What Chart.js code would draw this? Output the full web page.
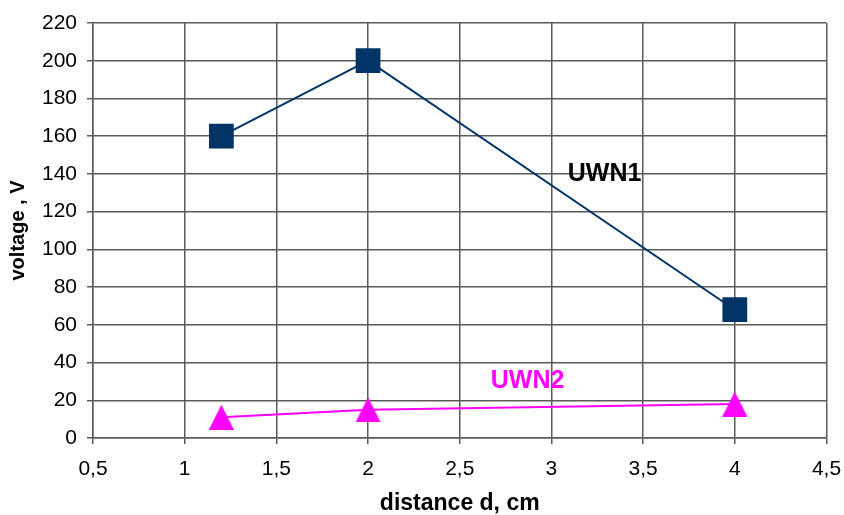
<!DOCTYPE html>
<html>
<head>
<meta charset="utf-8">
<script src="https://cdn.jsdelivr.net/npm/chart.js@4/dist/chart.umd.min.js"></script>
<style>
  html, body { margin: 0; padding: 0; background: #fff; }
  #wrap { width: 844px; height: 515px; }
</style>
</head>
<body>
<div id="wrap"><canvas id="c" width="844" height="515"></canvas></div>
<script>
// Measured distances (cm) and voltages (V) for the two series
const distances = [1.2, 2, 4];
const uwn1 = [160, 200, 68];
const uwn2 = [11, 15, 18];

// Series names, also used as in-plot labels
const seriesNames = ['UWN1', 'UWN2'];
// Where each in-plot label sits, in data units [x, y]
const labelAnchors = [[3.29, 140], [2.87, 30]];

const xTitle = 'distance d, cm';
const yTitle = 'voltage , V';

const navy = '#003366';
const magenta = '#ff00ff';
const gridColor = '#5a5a5a';
const font = "'Liberation Sans', Arial, sans-serif";

const toPoints = (ys) => distances.map((x, i) => ({ x, y: ys[i] }));

// Triangle marker as a small bitmap, centred on its bounding box
function triangleMarker(w, h, color) {
  const c = document.createElement('canvas');
  c.width = w;
  c.height = h;
  const g = c.getContext('2d');
  g.fillStyle = color;
  g.beginPath();
  g.moveTo(w / 2, 0);
  g.lineTo(w, h);
  g.lineTo(0, h);
  g.closePath();
  g.fill();
  return c;
}

// Draws the series names next to their curves
const seriesLabels = {
  id: 'seriesLabels',
  afterDatasetsDraw(chart) {
    const { ctx, scales } = chart;
    const colors = ['#000000', magenta];
    ctx.save();
    ctx.font = 'bold 25px ' + font;
    ctx.textAlign = 'center';
    ctx.textBaseline = 'middle';
    seriesNames.forEach((name, i) => {
      ctx.fillStyle = colors[i];
      ctx.fillText(name, scales.x.getPixelForValue(labelAnchors[i][0]),
                         scales.y.getPixelForValue(labelAnchors[i][1]));
    });
    ctx.restore();
  }
};

new Chart(document.getElementById('c'), {
  type: 'scatter',
  data: {
    datasets: [
      {
        label: seriesNames[0],
        data: toPoints(uwn1),
        showLine: true,
        borderColor: navy,
        backgroundColor: navy,
        borderWidth: 2,
        pointStyle: 'rect',
        pointRadius: 17.5,
        pointHoverRadius: 17.5,
        pointBorderWidth: 0
      },
      {
        label: seriesNames[1],
        data: toPoints(uwn2),
        showLine: true,
        borderColor: magenta,
        backgroundColor: magenta,
        borderWidth: 2,
        pointStyle: triangleMarker(25, 25, magenta),
        pointRadius: 13,
        pointHoverRadius: 13,
        pointBorderWidth: 0
      }
    ]
  },
  options: {
    responsive: false,
    animation: false,
    events: [],
    layout: { padding: { left: 0, top: 23, right: 16, bottom: 0 } },
    plugins: {
      legend: { display: false },
      tooltip: { enabled: false }
    },
    scales: {
      x: {
        type: 'linear',
        min: 0.5,
        max: 4.5,
        ticks: {
          stepSize: 0.5,
          color: '#000',
          font: { family: font, size: 21 },
          padding: 13,
          callback: (v) => String(v).replace('.', ',')
        },
        grid: { color: gridColor, lineWidth: 1.5, tickLength: 6, tickColor: gridColor },
        border: { color: gridColor, width: 1.5 },
        title: {
          display: true,
          text: xTitle,
          color: '#000',
          font: { family: font, size: 23, weight: 'bold', lineHeight: 1 },
          padding: { top: 0, bottom: 0 }
        },
        afterFit(scale) {
          scale.height = 77;
          scale.paddingLeft = 0;
          scale.paddingRight = 0;
        }
      },
      y: {
        type: 'linear',
        min: 0,
        max: 220,
        ticks: {
          stepSize: 20,
          color: '#000',
          font: { family: font, size: 21 },
          padding: 10
        },
        grid: { color: gridColor, lineWidth: 1.5, tickLength: 6, tickColor: gridColor },
        border: { color: gridColor, width: 1.5 },
        title: {
          display: true,
          text: yTitle,
          color: '#000',
          font: { family: font, size: 20, weight: 'bold' },
          padding: { top: 6, bottom: 0 }
        },
        afterFit(scale) {
          scale.width = 93;
          scale.paddingTop = 0;
          scale.paddingBottom = 0;
        }
      }
    }
  },
  plugins: [seriesLabels]
});
</script>
</body>
</html>
